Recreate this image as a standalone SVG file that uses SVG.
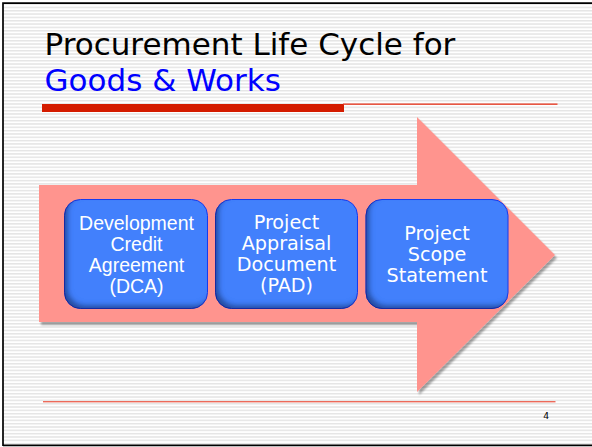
<svg xmlns="http://www.w3.org/2000/svg" width="592" height="447" viewBox="0 0 592 447">
  <defs>
    <pattern id="stripes" x="0" y="0" width="8" height="3.33" patternUnits="userSpaceOnUse">
      <rect x="0" y="0" width="8" height="3.33" fill="#ffffff"/>
      <rect x="0" y="0" width="8" height="1.5" fill="#e5e5e5"/>
    </pattern>
    <filter id="dropshadow" x="-5%" y="-5%" width="110%" height="110%">
      <feGaussianBlur in="SourceAlpha" stdDeviation="1.2" result="b"/>
      <feOffset in="b" dx="2" dy="2.5" result="o"/>
      <feComponentTransfer in="o" result="s"><feFuncA type="linear" slope="0.35"/></feComponentTransfer>
      <feMerge><feMergeNode in="s"/><feMergeNode in="SourceGraphic"/></feMerge>
    </filter>
    <filter id="bevel" x="-10%" y="-10%" width="120%" height="120%">
      <feOffset in="SourceAlpha" dx="4" dy="-4" result="off"/>
      <feGaussianBlur in="off" stdDeviation="2.5" result="blur"/>
      <feComposite in="SourceAlpha" in2="blur" operator="out" result="inner"/>
      <feFlood flood-color="#0d1a55" flood-opacity="0.7" result="col"/>
      <feComposite in="col" in2="inner" operator="in" result="shadow"/>
      <feMerge><feMergeNode in="SourceGraphic"/><feMergeNode in="shadow"/></feMerge>
    </filter>
  </defs>
  <style>
    .title { font-family: "DejaVu Sans", Verdana, sans-serif; font-size: 31px; }
    .box { fill: #4280fc; stroke: #1e3cf0; stroke-width: 1; }
    .arial { font-family: "Liberation Sans", Arial, sans-serif; font-size: 19.5px; fill: #ffffff; text-anchor: middle; }
    .verd { font-family: "DejaVu Sans", Verdana, sans-serif; font-size: 19.2px; fill: #ffffff; text-anchor: middle; }
  </style>

  <!-- background -->
  <rect x="0" y="0" width="592" height="447" fill="#ffffff"/>
  <rect x="3" y="3" width="589" height="442" fill="url(#stripes)"/>
  <path d="M3,446 V3.2 H592 M3,445.3 H592" fill="none" stroke="#000000" stroke-width="1.7"/>

  <!-- title -->
  <g id="title">
    <text class="title" x="44.5" y="55" fill="#000000">Procurement Life Cycle for</text>
    <text class="title" x="44.5" y="90.5" fill="#0000ff">Goods &amp; Works</text>
    <rect x="42" y="104" width="302" height="8" fill="#d41c00"/>
    <rect x="343" y="103.5" width="214.5" height="1.3" fill="#e8341c"/>
  </g>

  <!-- big arrow -->
  <g id="arrow">
    <polygon points="39,185 417,185 417,117 555,255 417,392 417,322 39,322" fill="#ff948e" filter="url(#dropshadow)"/>
  </g>

  <g id="connectors"/>

  <g id="node-dca">
    <rect class="box" x="64.5" y="199.5" width="143" height="109" rx="16" ry="16" filter="url(#bevel)"/>
    <text class="arial" x="136.5" y="229.5">Development</text>
    <text class="arial" x="136.5" y="250.5">Credit</text>
    <text class="arial" x="136.5" y="271.5">Agreement</text>
    <text class="arial" x="136.5" y="292.5">(DCA)</text>
  </g>

  <g id="node-pad">
    <rect class="box" x="215.5" y="199.5" width="142" height="109" rx="16" ry="16" filter="url(#bevel)"/>
    <text class="verd" x="286.5" y="228.5">Project</text>
    <text class="verd" x="286.5" y="249.5">Appraisal</text>
    <text class="verd" x="286.5" y="270.5">Document</text>
    <text class="verd" x="286.5" y="291.5">(PAD)</text>
  </g>

  <g id="node-pss">
    <rect class="box" x="366" y="199.5" width="142" height="109" rx="16" ry="16" filter="url(#bevel)"/>
    <text class="verd" x="437" y="240">Project</text>
    <text class="verd" x="437" y="261">Scope</text>
    <text class="verd" x="437" y="282">Statement</text>
  </g>

  <!-- footer -->
  <g id="footer">
    <rect x="43" y="401" width="512.5" height="1.4" fill="#ec6a5a"/>
    <text x="549" y="419.3" text-anchor="end" font-family="DejaVu Sans, Verdana, sans-serif" font-size="9.2" fill="#000000">4</text>
  </g>
</svg>
